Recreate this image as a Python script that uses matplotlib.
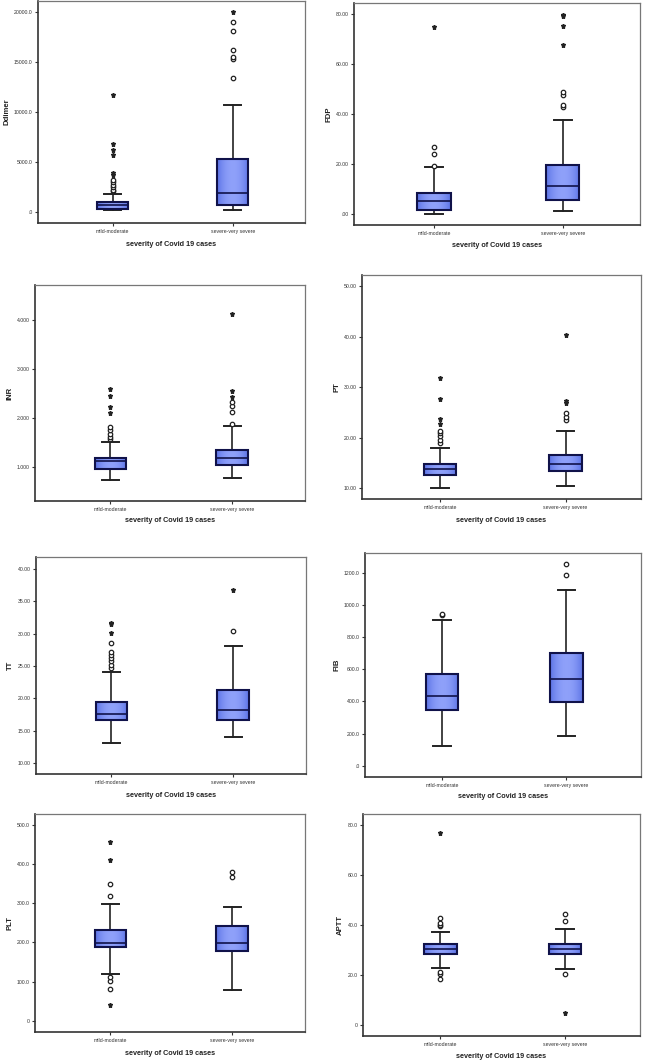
import matplotlib
matplotlib.use("Agg")
import matplotlib.pyplot as plt
import numpy as np

plt.rcParams['font.family'] = ['Liberation Sans', 'DejaVu Sans']

W, H = 651, 1064
groups = ["mild-moderate", "severe-very severe"]
xtitle = "severity of Covid 19 cases"

# box statistics per variable: [low whisker, Q1, median, Q3, high whisker] for each group
ddimer_stats = [[200, 365, 700, 1000, 1830], [200, 764, 1927, 5316, 10731]]
ddimer_circ = [[2093, 2259, 2525, 2757, 2990, 3256], [13389, 15282, 15482, 16213, 18140, 19003]]
ddimer_star = [[3754, 3920, 5748, 6246, 6844, 11760], [20000]]

fdp_stats = [[0, 1.5, 4.95, 8.3, 18.6], [1.07, 5.5, 11.0, 19.5, 37.6]]
fdp_circ = [[19.3, 23.8, 26.9], [42.7, 43.6, 47.6, 48.7]]
fdp_star = [[74.8], [67.4, 75.0, 79.1, 79.7]]

inr_stats = [[0.74, 0.966, 1.116, 1.177, 1.511], [0.78, 1.034, 1.184, 1.354, 1.83]]
inr_circ = [[1.566, 1.61, 1.68, 1.75, 1.818], [1.87, 2.12, 2.24, 2.33]]
inr_star = [[2.11, 2.23, 2.45, 2.6], [2.43, 2.55, 4.12]]

pt_stats = [[10.0, 12.57, 13.8, 14.8, 17.9], [10.4, 13.4, 14.9, 16.6, 21.4]]
pt_circ = [[18.9, 19.6, 20.3, 20.9, 21.3], [23.6, 24.2, 24.9]]
pt_star = [[22.7, 23.7, 27.7, 31.8], [26.8, 27.3, 40.4]]

tt_stats = [[13.2, 16.6, 17.6, 19.5, 24.06], [14.1, 16.6, 18.2, 21.3, 28.1]]
tt_circ = [[24.7, 25.2, 25.7, 26.2, 26.7, 27.2, 28.5], [30.4]]
tt_star = [[30.1, 31.4, 31.6], [36.7]]

fib_stats = [[120, 345, 432, 573, 905], [183, 397, 542, 704, 1097]]
fib_circ = [[941, 946], [1190, 1257]]
fib_star = [[], []]

plt_stats = [[120, 188, 198, 232, 298], [79, 177, 198, 242.5, 290]]
plt_circ = [[81, 102, 110.5, 319, 349.5], [366, 381]]
plt_star = [[41, 411, 456], []]

aptt_stats = [[22.7, 28.3, 30.3, 32.3, 37.3], [22.3, 28.3, 30.4, 32.4, 38.3]]
aptt_circ = [[18.4, 20.4, 21.3, 39.7, 40.2, 40.7, 42.7], [20.5, 41.7, 44.3]]
aptt_star = [[76.7], [4.7]]

# tick values and labels
ddimer_ticks = [0, 5000, 10000, 15000, 20000]
ddimer_labels = [".0", "5000.0", "10000.0", "15000.0", "20000.0"]
fdp_ticks = [0, 20, 40, 60, 80]
fdp_labels = [".00", "20.00", "40.00", "60.00", "80.00"]
inr_ticks = [1, 2, 3, 4]
inr_labels = ["1.000", "2.000", "3.000", "4.000"]
pt_ticks = [10, 20, 30, 40, 50]
pt_labels = ["10.00", "20.00", "30.00", "40.00", "50.00"]
tt_ticks = [10, 15, 20, 25, 30, 35, 40]
tt_labels = ["10.00", "15.00", "20.00", "25.00", "30.00", "35.00", "40.00"]
fib_ticks = [0, 200, 400, 600, 800, 1000, 1200]
fib_labels = [".0", "200.0", "400.0", "600.0", "800.0", "1000.0", "1200.0"]
plt_ticks = [0, 100, 200, 300, 400, 500]
plt_labels = ["0", "100.0", "200.0", "300.0", "400.0", "500.0"]
aptt_ticks = [0, 20, 40, 60, 80]
aptt_labels = ["0", "20.0", "40.0", "60.0", "80.0"]

panels = [
    # name, stats, circles, stars, ticks, labels, ylim, frame px (l, r, t, b), xlabel y px
    ("Ddimer", ddimer_stats, ddimer_circ, ddimer_star, ddimer_ticks, ddimer_labels,
     (-1063, 21100), (38, 305, 1, 223), 243),
    ("FDP", fdp_stats, fdp_circ, fdp_star, fdp_ticks, fdp_labels,
     (-4.5, 84.4), (354, 640, 3, 225), 244),
    ("INR", inr_stats, inr_circ, inr_star, inr_ticks, inr_labels,
     (0.305, 4.716), (35, 305, 285, 501), 519),
    ("PT", pt_stats, pt_circ, pt_star, pt_ticks, pt_labels,
     (7.9, 52.2), (362, 641, 275, 499), 519),
    ("TT", tt_stats, tt_circ, tt_star, tt_ticks, tt_labels,
     (8.35, 41.8), (36, 306, 557, 774), 794),
    ("FIB", fib_stats, fib_circ, fib_star, fib_ticks, fib_labels,
     (-70.6, 1324.6), (365, 641, 553, 777), 795),
    ("PLT", plt_stats, plt_circ, plt_star, plt_ticks, plt_labels,
     (-29, 528), (35, 305, 814, 1032), 1052),
    ("APTT", aptt_stats, aptt_circ, aptt_star, aptt_ticks, aptt_labels,
     (-4.4, 84.4), (363, 640, 814, 1036), 1055),
]

fig = plt.figure(figsize=(W / 100, H / 100), dpi=100)
fig.patch.set_facecolor("white")

# horizontal gradient for the SPSS-like shaded boxes
grad = np.abs(np.linspace(-1, 1, 64))
c_mid = np.array([0.56, 0.63, 0.98])
c_edge = np.array([0.36, 0.45, 0.90])
grad_img = (c_mid[None, :] * (1 - grad[:, None] ** 2) + c_edge[None, :] * grad[:, None] ** 2)[None, :, :]

for name, stats, circ, star, ticks, labels, ylim, (l, r, t, b), xl_y in panels:
    ax = fig.add_axes([l / W, 1 - b / H, (r - l) / W, (b - t) / H])
    bxp_stats = []
    for st, g in zip(stats, groups):
        bxp_stats.append(dict(whislo=st[0], q1=st[1], med=st[2], q3=st[3], whishi=st[4],
                              fliers=[], label=g))
    res = ax.bxp(bxp_stats, positions=[1, 2], widths=0.26, patch_artist=True,
                 showfliers=False, capwidths=0.14,
                 boxprops=dict(facecolor=c_mid, edgecolor="#10124a", linewidth=1.5),
                 medianprops=dict(color="#10124a", linewidth=1.2),
                 whiskerprops=dict(color="#222222", linewidth=1.2),
                 capprops=dict(color="#222222", linewidth=1.4))
    for pos, st, box in zip([1, 2], stats, res["boxes"]):
        im = ax.imshow(grad_img, extent=(pos - 0.13, pos + 0.13, st[1], st[3]),
                       aspect="auto", zorder=box.get_zorder() - 0.1, interpolation="bilinear")
        im.set_clip_path(box)
        box.set_facecolor("none")
        box.set_zorder(box.get_zorder() + 0.2)
    for pos, vals in zip([1, 2], circ):
        if vals:
            ax.plot([pos] * len(vals), vals, linestyle="none", marker="o", markersize=3.2,
                    markerfacecolor="white", markeredgecolor="#222222", markeredgewidth=0.9)
    for pos, vals in zip([1, 2], star):
        if vals:
            ax.plot([pos] * len(vals), vals, linestyle="none", marker="*", markersize=3.6,
                    color="#222222")

    ax.set_xlim(0.38, 2.6)
    ax.set_ylim(*ylim)
    ax.set_yticks(ticks)
    ax.set_yticklabels(labels, fontsize=3.7, color="#333333")
    ax.set_xticks([1, 2])
    ax.set_xticklabels(groups, fontsize=3.7, color="#333333")
    ax.tick_params(axis="both", direction="out", length=2.5, width=0.8, colors="#333333", pad=1.5)
    ax.set_ylabel(name, fontsize=5.6, fontweight="bold", color="#222222", labelpad=2.5)
    ax.set_xlabel(xtitle, fontsize=5.2, fontweight="bold", color="#222222",
                  labelpad=(xl_y - b) * 0.72 - 9)
    for side in ["top", "right"]:
        ax.spines[side].set_color("#777777")
        ax.spines[side].set_linewidth(0.9)
    for side in ["left", "bottom"]:
        ax.spines[side].set_color("#333333")
        ax.spines[side].set_linewidth(1.2)

fig.savefig("out.png", dpi=100, facecolor="white")
